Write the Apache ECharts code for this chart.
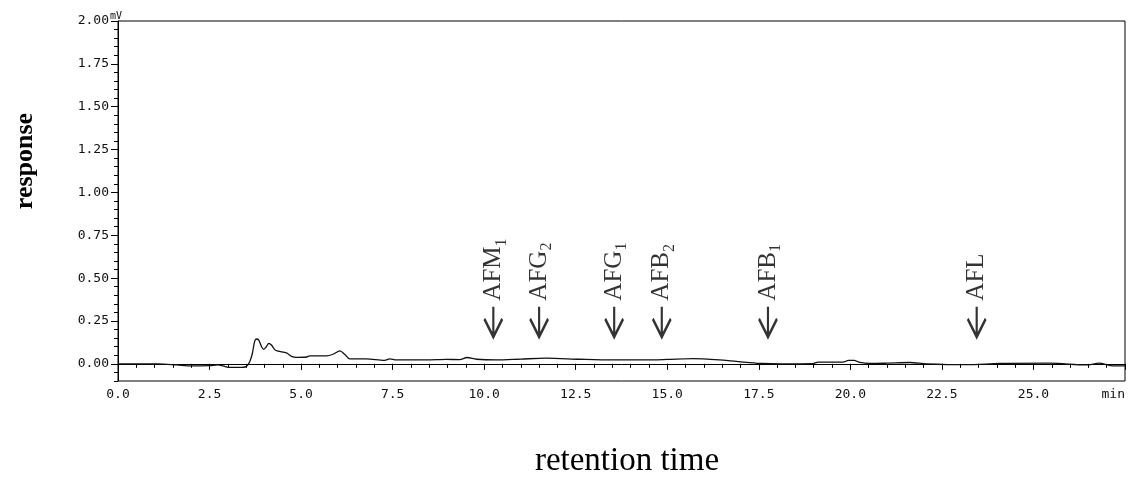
<!DOCTYPE html>
<html><head><meta charset="utf-8">
<script src="https://cdn.jsdelivr.net/npm/echarts@6.0.0/dist/echarts.min.js"></script>
<style>html,body{margin:0;padding:0;background:#fff}#c{width:1129px;height:480px}</style>
</head><body><div id="c"></div>
<script>
// retention time (min)
const retentionTimes = [0,1.1,1.6,2.0,2.5,2.73,2.87,3.05,3.32,3.5,3.6,3.67,3.73,3.78,3.84,3.92,3.98,4.05,4.12,4.19,4.28,4.37,4.6,4.74,4.87,5.15,5.24,5.69,5.87,6.06,6.19,6.33,6.78,7.28,7.42,7.6,8.42,8.97,9.33,9.53,9.79,10.33,11.0,11.7,12.6,13.5,14.4,15.0,15.7,16.6,17.17,17.6,18.1,18.97,19.12,19.8,19.95,20.1,20.26,20.53,21.0,21.62,22.08,23.17,24.08,25.45,26.45,26.8,27.1,27.5];
// detector response (mV)
const responses = [0.000,0.000,-0.006,-0.012,-0.010,-0.006,-0.012,-0.021,-0.021,-0.016,0.014,0.062,0.130,0.145,0.140,0.100,0.085,0.100,0.120,0.110,0.083,0.074,0.064,0.044,0.038,0.040,0.047,0.047,0.056,0.076,0.056,0.029,0.029,0.020,0.029,0.023,0.023,0.026,0.025,0.037,0.027,0.023,0.028,0.033,0.027,0.023,0.023,0.026,0.031,0.020,0.009,0.002,0.000,0.001,0.010,0.010,0.020,0.020,0.008,0.002,0.004,0.008,0.000,-0.005,0.002,0.004,-0.006,0.004,-0.010,-0.012];
// peak annotations
const peakNames = ['AFM','AFG','AFG','AFB','AFB','AFL'];
const peakSubs = ['1','2','1','2','1',''];
const peakTimes = [10.25, 11.5, 13.55, 14.85, 17.75, 23.45];
// axis ticks
const xTickValues = [0,2.5,5,7.5,10,12.5,15,17.5,20,22.5,25,27.5];
const xTickLabels = ['0.0','2.5','5.0','7.5','10.0','12.5','15.0','17.5','20.0','22.5','25.0','min'];
const yTickValues = [0,0.25,0.5,0.75,1.0,1.25,1.5,1.75,2.0];
const yTickLabels = ['0.00','0.25','0.50','0.75','1.00','1.25','1.50','1.75','2.00'];

const ARROW_LEVEL = 0.245;
const BLACK = '#000';
const tickFont = {fontFamily:'DejaVu Sans Mono', fontSize:13, color:'#111'};

const chart = echarts.init(document.getElementById('c'), null, {renderer:'canvas'});
const lookup = (vals, labels) => v => { const i = vals.findIndex(x => Math.abs(x - v) < 1e-6); return i >= 0 ? labels[i] : ''; };

chart.setOption({
  animation: false,
  grid: {left:118, right:4, top:21, bottom:99, show:true, borderColor:BLACK, borderWidth:1, backgroundColor:'transparent'},
  xAxis: [
    {type:'value', min:0, max:27.5, position:'bottom',
     axisLine:{show:true, lineStyle:{color:BLACK, width:1}},
     axisTick:{show:true, customValues:xTickValues, length:6, lineStyle:{color:BLACK}},
     axisLabel:{show:true, customValues:xTickValues, formatter:lookup(xTickValues, xTickLabels), margin:7, alignMaxLabel:'right', ...tickFont},
     splitLine:{show:false}},
    {type:'value', min:0, max:27.5, interval:0.5, position:'bottom',
     axisLine:{show:false}, axisTick:{show:true, length:4, lineStyle:{color:BLACK}},
     axisLabel:{show:false}, splitLine:{show:false}}
  ],
  yAxis: [
    {type:'value', min:-0.1, max:2.0, position:'left',
     axisLine:{show:true, lineStyle:{color:BLACK, width:1}},
     axisTick:{show:true, customValues:yTickValues, length:7, lineStyle:{color:BLACK}},
     axisLabel:{show:true, customValues:yTickValues, formatter:lookup(yTickValues, yTickLabels), margin:9, ...tickFont},
     splitLine:{show:false}},
    {type:'value', min:-0.1, max:2.0, interval:0.05, position:'left',
     axisLine:{show:false}, axisTick:{show:true, length:4, lineStyle:{color:BLACK}},
     axisLabel:{show:false}, splitLine:{show:false}}
  ],
  series: [
    {type:'line', xAxisIndex:0, yAxisIndex:0, showSymbol:false, smooth:0.3,
     lineStyle:{color:'#111', width:1.3}, silent:true,
     data: retentionTimes.map((t,i) => [t, responses[i]])},
    {type:'scatter', xAxisIndex:0, yAxisIndex:0, silent:true,
     symbol:'path://M9,0 L9,30 M0,12 L9,30 L18,12', symbolSize:[18,30],
     itemStyle:{color:'none', borderColor:BLACK, borderWidth:2.8},
     label:{show:true, position:'top', distance:3, rotate:90, align:'left', verticalAlign:'middle',
       formatter: p => '{m|' + peakNames[p.dataIndex] + '}' + (peakSubs[p.dataIndex] ? '{s|' + peakSubs[p.dataIndex] + '}' : ''),
       rich:{
         m:{fontFamily:'Liberation Serif', fontSize:25, color:BLACK, lineHeight:32},
         s:{fontFamily:'Liberation Serif', fontSize:16, color:BLACK, verticalAlign:'bottom'}
       }},
     emphasis:{disabled:true},
     data: peakTimes.map(t => [t, ARROW_LEVEL])}
  ],
  graphic: [
    {type:'text', x:116, y:16,
     style:{text:'mV', fontFamily:'DejaVu Sans Mono', fontSize:10, fill:'#111', align:'center', verticalAlign:'middle'}},
    {type:'text', x:25, y:161, rotation:Math.PI/2,
     style:{text:'response', fontFamily:'Liberation Serif', fontSize:26, fontWeight:'bold', fill:BLACK, align:'center', verticalAlign:'middle'}},
    {type:'text', x:627, y:461,
     style:{text:'retention time', fontFamily:'Liberation Serif', fontSize:33, fill:BLACK, align:'center', verticalAlign:'middle'}}
  ]
});
</script></body></html>
